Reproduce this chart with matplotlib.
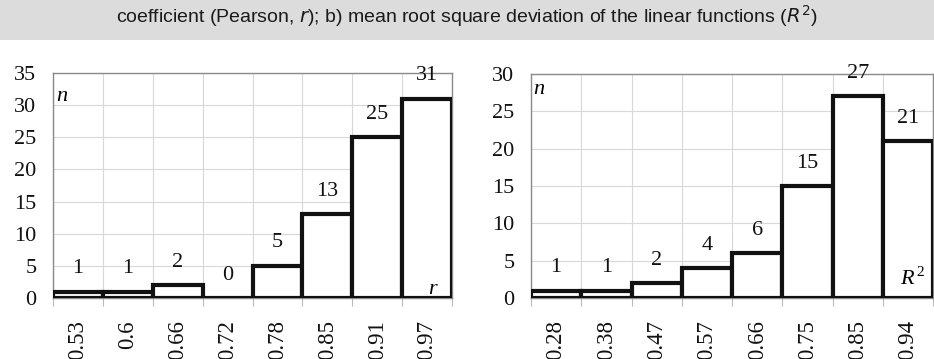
import numpy as np
import matplotlib
matplotlib.use("Agg")
import matplotlib.pyplot as plt
from matplotlib.patches import Rectangle

# histogram data
r_bins = ["0.53", "0.6", "0.66", "0.72", "0.78", "0.85", "0.91", "0.97"]
r_counts = [1, 1, 2, 0, 5, 13, 25, 31]

r2_bins = ["0.28", "0.38", "0.47", "0.57", "0.66", "0.75", "0.85", "0.94"]
r2_counts = [1, 1, 2, 4, 6, 15, 27, 21]

W, H = 934, 359
serif = "Liberation Serif"
narrow = ["Liberation Sans Narrow", "Liberation Sans"]

plt.rcParams["mathtext.fontset"] = "custom"
plt.rcParams["mathtext.rm"] = "Liberation Sans Narrow"
plt.rcParams["mathtext.it"] = "Liberation Sans Narrow:italic"

fig = plt.figure(figsize=(W / 100, H / 100), dpi=100)

# grey caption band at the top
fig.patches.append(Rectangle((0, 1 - 40 / H), 1, 40 / H, transform=fig.transFigure,
                             facecolor="#dcdcdc", edgecolor="none", zorder=0))
fig.text(467 / W, 1 - 16 / H,
         r"coefficient (Pearson, $r$); b) mean root square deviation of the linear functions ($R^2$)",
         ha="center", va="center", fontsize=14, family=narrow, color="#1a1a1a")


def draw_hist(ax, labels, counts, ymax):
    x = np.arange(len(labels))
    ax.bar(x, counts, width=1.0, facecolor="white", edgecolor="#111111",
           linewidth=3.0, zorder=3)
    for xi, c in zip(x, counts):
        ax.annotate(str(c), (xi, c), xytext=(0, 16.5), textcoords="offset points",
                    ha="center", va="center", fontsize=16, family=serif,
                    color="#111111", zorder=4, annotation_clip=False)
    ax.set_xlim(-0.5, len(labels) - 0.5)
    ax.set_ylim(0, ymax)
    ax.set_yticks(np.arange(0, ymax + 1, 5))
    ax.set_xticks(x)
    ax.set_xticklabels(labels, rotation=90, fontsize=16.5, family=serif, color="#111111")
    ax.set_xticks(np.arange(-0.5, len(labels)), minor=True)
    for lab in ax.get_yticklabels():
        lab.set_family(serif)
        lab.set_fontsize(16)
        lab.set_color("#111111")
    ax.tick_params(axis="x", which="major", length=0, pad=16)
    ax.tick_params(axis="x", which="minor", length=6, color="#bbbbbb", width=0.8)
    ax.tick_params(axis="y", length=0, pad=12)
    ax.grid(axis="y", color="#d8d8d8", linewidth=0.8, zorder=0)
    ax.grid(axis="x", which="minor", color="#d8d8d8", linewidth=0.8, zorder=0)
    ax.set_axisbelow(True)
    for s in ax.spines.values():
        s.set_color("#8a8a8a")
        s.set_linewidth(1.0)


ax1 = fig.add_axes([53 / W, 61 / H, 399 / W, 225 / H])
draw_hist(ax1, r_bins, r_counts, 35)

ax2 = fig.add_axes([531 / W, 61 / H, 402 / W, 224 / H])
draw_hist(ax2, r2_bins, r2_counts, 30)

# axis letters inside the plots
fig.text(62 / W, 1 - 97 / H, "n", fontsize=16, family=serif, style="italic",
         ha="center", va="center")
fig.text(432 / W, 1 - 289 / H, "r", fontsize=16, family=serif, style="italic",
         ha="center", va="center")
fig.text(539 / W, 1 - 89 / H, "n", fontsize=16, family=serif, style="italic",
         ha="center", va="center")
fig.text(907 / W, 1 - 280 / H, "R", fontsize=16, family=serif, style="italic",
         ha="center", va="center")
fig.text(920 / W, 1 - 273 / H, "2", fontsize=11, family=serif,
         ha="center", va="center")

fig.savefig("out.png", dpi=100)
